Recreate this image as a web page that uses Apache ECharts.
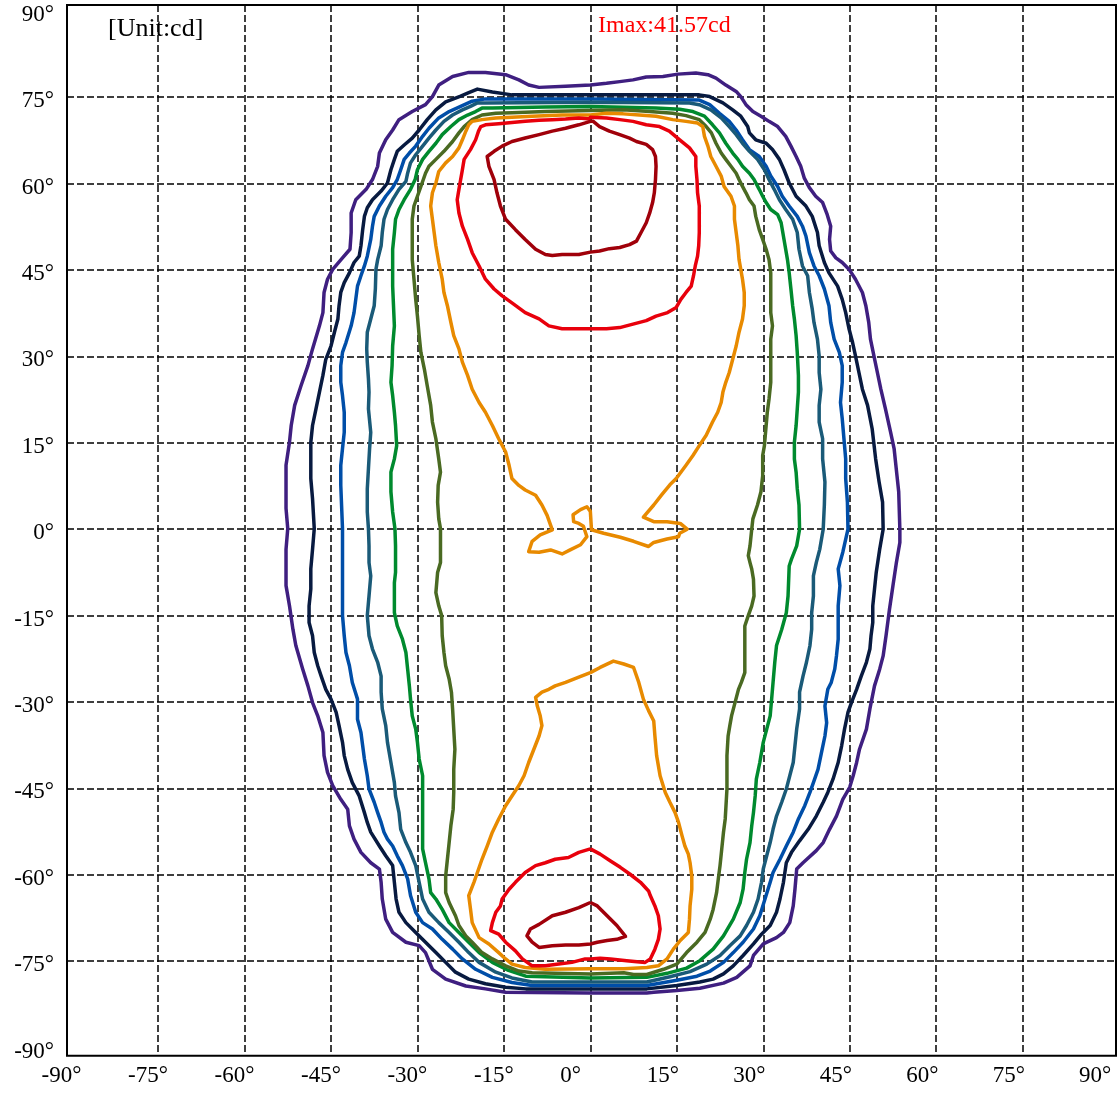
<!DOCTYPE html>
<html>
<head>
<meta charset="utf-8">
<script src="https://cdn.jsdelivr.net/npm/echarts@6/dist/echarts.min.js"></script>
<style>
html,body{margin:0;padding:0;background:#fff;}
#chart{width:1120px;height:1093px;}
</style>
</head>
<body>
<div id="chart"></div>
<script>
// Tick values (degrees)
const tickLabels = [-90,-75,-60,-45,-30,-15,0,15,30,45,60,75,90];
const gridTicks = [-75,-60,-45,-30,-15,0,15,30,45,60,75];

// Contour lines [horizontal angle, vertical angle], outermost to innermost
const purple = [[0,77.1],[-4.3,76.9],[-8.9,76.7],[-10.7,77.1],[-12.4,78.0],[-14.7,78.9],[-18.2,79.3],[-21.1,79.3],[-23.9,78.6],[-26.3,77.1],[-27.4,75.1],[-28.6,73.7],[-30.9,72.5],[-33.2,71.1],[-34.3,69.3],[-35.5,67.6],[-36.6,65.3],[-36.9,63.0],[-37.8,60.7],[-38.9,59.0],[-40.7,57.2],[-41.5,54.9],[-41.5,51.5],[-41.7,48.6],[-43.0,47.1],[-44.7,45.1],[-45.6,43.4],[-46.2,41.1],[-46.4,37.6],[-47.0,35.3],[-48.2,31.3],[-49.0,28.4],[-50.2,24.9],[-51.3,21.5],[-51.9,18.0],[-52.2,15.1],[-52.8,11.1],[-52.8,7.6],[-52.8,3.6],[-52.5,0.1],[-52.8,-3.5],[-52.8,-9.8],[-52.2,-13.3],[-51.6,-17.4],[-51.1,-20.2],[-49.9,-24.3],[-49.0,-27.2],[-48.2,-30.1],[-47.3,-32.4],[-46.4,-35.3],[-46.2,-39.3],[-45.6,-42.2],[-44.7,-44.5],[-43.3,-46.9],[-42.1,-48.6],[-41.8,-51.5],[-41.0,-53.8],[-39.8,-56.1],[-38.1,-57.9],[-36.6,-59.0],[-36.3,-61.3],[-36.1,-64.2],[-35.5,-67.7],[-34.3,-70.0],[-32.0,-71.7],[-29.7,-72.3],[-28.6,-73.5],[-27.4,-76.4],[-25.1,-78.1],[-21.6,-79.3],[-18.2,-79.8],[-14.7,-80.4],[0,-80.5],[9.8,-80.5],[11.0,-80.4],[15.0,-80.1],[19.0,-79.7],[23.1,-78.8],[25.4,-77.8],[27.7,-75.8],[28.3,-74.0],[30.0,-72.0],[32.3,-70.9],[33.5,-70.0],[34.6,-68.3],[35.2,-65.4],[35.5,-62.5],[35.8,-59.0],[36.9,-57.9],[39.2,-55.8],[40.4,-54.4],[41.5,-52.1],[42.7,-49.8],[43.8,-46.9],[45.0,-44.8],[45.6,-42.8],[46.2,-40.5],[46.7,-38.2],[47.9,-34.7],[48.5,-31.2],[49.3,-27.2],[50.2,-24.3],[50.8,-22.0],[51.3,-18.5],[51.9,-13.9],[52.5,-9.8],[53.1,-5.8],[53.7,-2.3],[53.7,0],[53.5,6.5],[53.2,9.3],[52.7,14.0],[52.1,16.8],[51.2,20.9],[50.4,24.3],[49.8,27.2],[49.2,30.1],[48.6,33.0],[48.3,35.9],[47.8,38.8],[47.2,41.1],[46.0,43.4],[44.9,45.1],[43.7,46.3],[42.6,47.1],[41.7,48.3],[41.5,50.3],[41.7,52.6],[41.1,54.6],[40.3,56.7],[39.1,57.8],[38.0,59.3],[37.1,61.0],[36.5,63.0],[35.7,64.7],[34.8,66.5],[33.9,68.2],[32.5,69.9],[31.0,70.8],[29.6,71.7],[28.2,72.5],[27.0,73.7],[26.1,75.1],[25.3,76.0],[23.5,77.1],[21.8,78.3],[20.4,78.9],[18.3,79.2],[15.2,79.0],[12.6,78.6],[9.7,78.5],[7.4,78.0],[5.1,77.7],[2.8,77.4],[0,77.1]];

const navy = [[0,75.4],[-13.6,75.4],[-17.0,75.9],[-19.6,76.4],[-21.3,75.7],[-22.5,75.2],[-25.1,74.2],[-26.8,72.8],[-28.3,71.1],[-29.7,69.3],[-30.9,67.9],[-32.3,66.7],[-33.5,65.6],[-34.0,64.2],[-34.6,62.4],[-35.2,60.1],[-36.3,58.7],[-37.8,57.2],[-38.7,55.8],[-39.2,54.3],[-39.5,52.0],[-39.8,49.2],[-40.1,47.4],[-41.0,46.3],[-41.8,44.5],[-42.7,42.8],[-43.3,41.1],[-43.6,38.8],[-43.8,36.5],[-44.4,34.2],[-45.0,31.8],[-45.9,29.5],[-46.4,26.7],[-47.0,23.8],[-47.6,20.9],[-48.2,18.0],[-48.5,15.1],[-48.5,8.8],[-48.2,5.3],[-47.9,0.1],[-48.2,-3.5],[-48.5,-6.9],[-48.5,-10.4],[-48.8,-13.3],[-48.8,-16.2],[-48.2,-18.5],[-47.9,-21.4],[-47.3,-23.7],[-46.7,-25.5],[-45.9,-27.8],[-45.0,-29.5],[-44.1,-31.8],[-43.6,-34.1],[-43.0,-37.0],[-42.7,-39.3],[-42.1,-41.7],[-41.3,-44.0],[-40.1,-46.3],[-39.2,-49.2],[-38.7,-50.9],[-38.1,-52.6],[-36.6,-55.0],[-35.5,-56.7],[-34.3,-58.4],[-34.0,-61.3],[-33.7,-64.2],[-33.2,-66.5],[-32.0,-68.3],[-30.3,-70.0],[-28.6,-71.7],[-26.8,-73.5],[-25.1,-75.2],[-23.4,-76.9],[-21.1,-78.1],[-18.2,-78.9],[-14.7,-79.5],[-11.2,-79.8],[0,-79.8],[9.8,-79.8],[15.0,-79.2],[19.0,-78.6],[21.3,-78.1],[23.1,-77.2],[24.8,-75.8],[26.5,-74.0],[28.3,-72.0],[29.7,-70.3],[31.2,-68.8],[32.3,-66.5],[32.9,-64.2],[33.5,-61.3],[34.0,-57.9],[34.9,-56.1],[36.3,-54.1],[37.8,-52.1],[39.2,-49.8],[40.4,-47.4],[41.2,-45.7],[42.1,-43.4],[43.0,-40.5],[43.6,-37.6],[44.1,-34.7],[44.7,-31.8],[45.3,-30.1],[46.2,-27.8],[47.0,-25.5],[47.9,-23.1],[48.5,-20.8],[48.7,-18.5],[49.0,-16.2],[49.0,-13.3],[49.3,-10.4],[49.6,-7.5],[50.2,-3.5],[50.8,0],[50.7,4.7],[50.1,8.2],[49.5,12.2],[48.9,17.4],[48.1,21.5],[47.2,24.3],[46.6,27.2],[46.0,30.1],[45.5,32.4],[44.9,34.7],[44.3,37.6],[43.7,39.9],[42.9,42.2],[41.4,44.5],[40.6,46.3],[39.7,49.2],[39.4,51.5],[38.5,54.3],[37.4,56.1],[35.7,57.8],[34.5,60.1],[33.6,62.4],[32.8,64.2],[31.6,65.9],[30.5,67.0],[28.7,67.6],[27.6,68.8],[27.3,69.9],[26.1,71.7],[24.7,72.8],[23.0,74.0],[20.7,75.1],[18.9,75.4],[0,75.4]];

const blue = [[0,74.7],[-18.2,74.7],[-20.5,74.3],[-22.5,73.4],[-24.5,72.5],[-26.3,71.4],[-28.0,69.6],[-29.1,68.2],[-30.3,66.5],[-31.4,65.3],[-32.3,64.2],[-32.9,62.4],[-33.5,60.7],[-34.3,59.3],[-35.5,57.8],[-36.6,56.1],[-37.5,54.3],[-37.8,52.6],[-38.1,50.3],[-38.7,47.4],[-39.2,45.7],[-39.8,44.0],[-40.4,42.2],[-40.7,39.9],[-41.0,37.6],[-41.5,35.3],[-42.4,32.4],[-43.0,30.7],[-43.3,28.4],[-43.3,25.5],[-43.0,23.2],[-42.7,20.3],[-42.7,16.8],[-43.0,14.0],[-43.3,11.1],[-43.3,7.6],[-43.0,0.1],[-43.0,-5.8],[-43.0,-15.0],[-42.7,-18.5],[-42.4,-21.4],[-41.8,-23.7],[-41.3,-26.6],[-40.4,-29.5],[-40.4,-33.0],[-39.8,-35.3],[-39.5,-37.6],[-39.2,-39.9],[-38.7,-42.8],[-38.4,-45.1],[-37.5,-47.4],[-36.9,-49.2],[-36.3,-50.9],[-35.8,-52.6],[-35.2,-53.8],[-34.3,-55.0],[-33.5,-56.7],[-32.6,-58.4],[-31.7,-60.7],[-31.2,-63.6],[-30.3,-66.5],[-29.1,-68.3],[-27.4,-69.4],[-25.7,-71.2],[-23.9,-72.9],[-22.2,-74.6],[-19.9,-76.4],[-17.0,-77.8],[-13.6,-78.7],[-10.1,-79.2],[0,-79.2],[9.8,-79.2],[15.0,-78.3],[18.5,-77.6],[20.8,-76.7],[23.1,-75.2],[24.8,-73.5],[26.5,-71.7],[28.3,-69.4],[29.4,-67.1],[30.3,-64.2],[31.2,-61.3],[31.7,-59.6],[32.9,-57.3],[34.0,-55.0],[35.2,-52.6],[36.1,-50.3],[37.2,-48.0],[38.1,-45.7],[38.7,-44.0],[39.5,-41.7],[40.1,-38.8],[40.7,-35.9],[41.0,-33.6],[40.7,-30.7],[41.2,-27.8],[41.8,-26.6],[42.4,-24.3],[42.7,-22.0],[43.0,-19.1],[43.0,-13.3],[43.3,-9.8],[43.0,-6.9],[43.8,-4.0],[44.7,0],[44.6,4.7],[44.3,8.8],[44.3,12.2],[44.0,15.7],[43.7,19.2],[43.4,22.0],[43.7,25.5],[43.7,28.4],[43.2,30.7],[42.3,33.0],[41.7,35.9],[41.4,38.8],[40.6,41.7],[39.7,44.0],[38.8,45.7],[38.0,48.0],[37.4,50.9],[36.8,52.6],[35.9,54.3],[34.5,56.1],[33.3,57.8],[32.5,59.5],[31.3,61.3],[30.5,63.0],[29.3,64.7],[27.6,65.9],[26.4,67.6],[25.3,69.3],[24.1,70.8],[22.4,72.2],[20.7,73.7],[18.9,74.5],[0,74.7]];

const teal = [[0,74.1],[-18.2,74.0],[-19.6,74.0],[-20.8,73.4],[-22.2,72.8],[-23.9,71.9],[-25.4,70.8],[-26.8,69.3],[-28.0,67.9],[-29.1,66.5],[-30.3,65.0],[-31.2,63.6],[-31.7,61.8],[-32.0,60.4],[-33.2,59.0],[-34.3,57.2],[-35.2,55.5],[-35.8,53.8],[-36.1,51.5],[-36.3,49.2],[-36.9,46.8],[-37.2,45.1],[-37.3,41.7],[-37.5,38.8],[-38.1,36.5],[-38.7,34.2],[-38.8,31.3],[-38.7,29.0],[-38.5,26.1],[-38.4,23.8],[-38.5,20.9],[-38.1,16.8],[-38.3,14.0],[-38.5,10.5],[-38.7,7.0],[-38.7,3.0],[-38.5,0.1],[-38.4,-2.9],[-38.4,-5.8],[-38.1,-8.1],[-38.4,-11.6],[-38.7,-15.0],[-38.4,-18.5],[-37.8,-20.8],[-36.9,-23.1],[-36.3,-25.5],[-36.3,-28.3],[-36.1,-31.2],[-35.5,-34.1],[-35.2,-37.0],[-34.6,-40.5],[-34.0,-44.0],[-33.8,-46.3],[-33.2,-49.2],[-32.9,-52.1],[-32.0,-54.4],[-31.2,-56.1],[-30.3,-58.4],[-29.7,-61.3],[-29.1,-64.2],[-28.0,-66.5],[-26.3,-68.3],[-24.5,-70.0],[-22.8,-71.7],[-21.1,-73.5],[-19.3,-75.2],[-16.4,-76.9],[-13.6,-77.9],[-10.1,-78.6],[0,-78.6],[9.8,-78.6],[13.8,-77.7],[17.3,-76.8],[20.2,-75.5],[22.5,-74.0],[24.2,-72.3],[26.0,-70.6],[27.1,-68.8],[28.3,-66.5],[29.1,-64.2],[29.7,-61.3],[30.0,-59.0],[30.6,-56.7],[31.2,-54.4],[31.7,-52.1],[32.3,-49.8],[33.2,-47.4],[34.0,-45.1],[34.6,-42.8],[35.2,-40.5],[35.5,-37.6],[35.8,-34.7],[36.3,-31.2],[36.3,-28.3],[36.9,-25.5],[37.5,-23.1],[38.1,-20.2],[38.4,-17.4],[38.4,-14.5],[38.7,-11.6],[38.7,-8.1],[39.2,-5.8],[39.8,-3.5],[40.4,0],[40.6,4.2],[40.7,8.2],[40.3,12.2],[40.3,15.7],[39.7,18.6],[39.7,21.5],[40.0,24.3],[39.7,27.2],[39.7,30.1],[39.4,33.0],[38.8,35.9],[38.5,38.2],[38.0,41.1],[37.7,44.0],[36.8,45.7],[36.2,48.6],[35.9,51.5],[35.1,53.8],[33.9,55.5],[32.8,57.2],[31.9,59.0],[31.0,60.7],[30.2,62.4],[29.0,64.2],[27.6,65.6],[26.4,67.0],[25.3,68.5],[24.1,69.9],[22.7,71.4],[20.9,72.8],[18.9,73.7],[17.2,74.0],[0,74.1]];

const green = [[0,73.4],[-7.8,73.3],[-17.0,73.1],[-18.8,73.1],[-19.9,72.5],[-21.3,71.9],[-22.8,71.1],[-24.2,69.9],[-25.7,68.5],[-26.8,67.0],[-28.0,65.6],[-29.1,64.2],[-30.0,62.4],[-30.4,60.7],[-31.2,59.0],[-32.3,57.2],[-33.2,55.5],[-33.8,53.8],[-34.0,51.5],[-34.3,48.6],[-34.3,42.2],[-34.0,35.3],[-34.3,31.8],[-34.4,28.4],[-34.6,25.5],[-34.3,23.2],[-34.0,20.3],[-33.8,18.0],[-33.6,14.5],[-34.0,12.2],[-34.6,9.9],[-34.6,6.5],[-34.3,3.0],[-33.9,0.1],[-33.8,-2.9],[-33.8,-7.5],[-34.0,-9.3],[-34.0,-14.5],[-33.5,-16.8],[-32.6,-19.1],[-32.0,-21.4],[-31.7,-24.3],[-31.4,-27.2],[-31.2,-29.5],[-30.9,-32.4],[-30.3,-34.7],[-30.0,-37.0],[-29.7,-39.9],[-29.1,-42.8],[-29.1,-55.5],[-28.6,-57.9],[-28.0,-60.7],[-27.7,-63.1],[-26.8,-64.2],[-25.7,-66.0],[-24.5,-68.3],[-22.8,-70.0],[-21.1,-71.7],[-19.3,-73.5],[-17.0,-75.2],[-14.2,-76.6],[-11.2,-77.6],[0,-77.9],[9.8,-77.8],[13.3,-77.1],[16.7,-76.2],[19.0,-74.9],[21.3,-72.9],[23.1,-70.6],[24.8,-67.7],[26.0,-64.8],[26.5,-62.5],[26.8,-59.6],[27.1,-57.3],[27.7,-54.4],[28.0,-51.5],[28.3,-49.2],[28.6,-46.3],[28.8,-43.4],[29.4,-40.5],[30.0,-37.0],[30.6,-34.7],[31.2,-32.4],[31.4,-30.1],[31.7,-26.6],[32.0,-23.1],[32.3,-20.2],[33.2,-17.4],[34.0,-14.5],[34.3,-11.6],[34.5,-6.4],[34.9,-5.2],[35.8,-2.9],[36.3,0],[36.2,4.2],[35.9,7.0],[35.7,9.9],[35.4,12.2],[35.4,15.1],[35.7,18.0],[35.9,20.9],[36.1,23.8],[36.1,26.7],[35.9,30.7],[35.7,33.6],[35.4,36.5],[35.1,38.8],[34.8,41.7],[34.5,44.5],[34.2,46.8],[33.6,50.3],[33.1,53.2],[32.5,54.6],[31.3,55.5],[30.5,56.7],[29.9,57.8],[29.3,59.0],[28.4,60.7],[27.6,61.8],[26.4,63.0],[25.6,64.2],[24.7,65.3],[23.5,67.0],[22.4,68.8],[21.2,70.2],[19.8,71.7],[17.8,72.5],[15.5,72.9],[11.4,73.1],[0,73.4]];

const olive = [[0,72.7],[-7.8,72.5],[-13.6,72.3],[-16.4,72.2],[-18.8,71.9],[-20.5,71.1],[-21.9,69.9],[-22.8,68.8],[-23.9,67.3],[-25.4,65.6],[-26.8,64.2],[-28.0,63.0],[-28.6,61.8],[-29.4,59.5],[-30.0,57.8],[-30.6,56.1],[-30.9,53.8],[-30.9,50.3],[-30.9,46.8],[-30.6,43.4],[-30.3,39.9],[-30.0,37.0],[-29.7,33.6],[-29.4,30.7],[-28.8,27.8],[-28.3,24.9],[-27.7,21.5],[-27.4,18.6],[-26.8,15.7],[-26.3,12.2],[-26.0,9.9],[-26.4,7.6],[-26.5,4.7],[-26.3,1.8],[-26.0,0.1],[-26.0,-3.5],[-26.0,-5.8],[-26.5,-7.5],[-26.8,-11.0],[-26.3,-13.3],[-25.8,-15.0],[-25.7,-18.5],[-25.4,-21.4],[-25.1,-23.7],[-24.5,-26.0],[-24.1,-28.3],[-23.9,-31.2],[-23.7,-34.7],[-23.5,-38.2],[-23.7,-41.7],[-23.7,-45.7],[-23.8,-48.6],[-24.2,-51.5],[-24.5,-54.4],[-24.8,-57.3],[-25.1,-60.2],[-25.1,-63.1],[-24.5,-64.8],[-23.4,-67.1],[-22.8,-68.8],[-21.6,-70.6],[-20.5,-71.7],[-18.8,-73.5],[-17.0,-74.6],[-14.7,-75.8],[-12.4,-76.7],[-10.1,-77.0],[0,-77.2],[5.8,-77.0],[7.5,-77.3],[9.8,-77.3],[12.7,-76.4],[15.0,-75.5],[16.7,-73.5],[18.5,-71.7],[19.9,-70.0],[20.8,-67.7],[21.3,-66.0],[21.9,-63.1],[22.2,-60.7],[22.5,-58.4],[22.8,-55.5],[23.1,-52.6],[23.4,-50.3],[23.5,-48.6],[23.7,-45.1],[23.7,-39.3],[23.9,-35.9],[24.2,-34.1],[24.5,-32.4],[25.1,-30.1],[25.7,-27.8],[26.2,-26.6],[26.8,-24.9],[26.8,-19.1],[26.8,-16.8],[27.4,-15.0],[28.0,-13.3],[28.4,-11.6],[28.3,-8.7],[28.0,-6.9],[27.7,-5.8],[27.4,-4.6],[27.7,-2.9],[28.0,0],[28.2,1.8],[29.0,4.2],[29.6,6.5],[29.9,9.3],[29.9,12.8],[30.2,14.5],[30.5,18.0],[30.7,20.3],[31.0,22.6],[31.3,25.5],[31.3,29.5],[31.3,33.0],[31.6,35.3],[31.3,37.6],[31.3,44.5],[31.0,46.8],[30.5,48.6],[29.9,50.3],[29.3,52.0],[28.7,54.3],[28.4,56.1],[27.6,57.2],[27.0,58.4],[26.4,59.5],[25.8,60.7],[25.3,61.8],[24.4,63.0],[23.5,64.2],[22.7,65.3],[21.8,67.0],[21.0,68.8],[20.1,69.9],[18.9,71.1],[16.6,71.8],[14.3,72.2],[10.3,72.5],[5.7,72.8],[0,72.7]];

const orangeUpper = [[0,71.9],[-4.9,71.9],[-10.1,71.7],[-13.6,71.5],[-16.4,71.4],[-18.8,71.1],[-20.5,70.8],[-21.1,70.2],[-21.6,69.1],[-22.2,67.6],[-22.8,66.2],[-23.9,64.7],[-25.1,63.6],[-26.3,62.1],[-26.8,60.1],[-27.4,58.4],[-27.7,56.1],[-27.4,53.8],[-27.1,51.5],[-26.8,49.2],[-26.3,46.3],[-25.7,43.4],[-25.4,41.1],[-24.8,38.8],[-24.2,35.9],[-23.7,33.6],[-22.8,31.3],[-22.2,29.0],[-21.3,26.7],[-20.5,24.3],[-19.3,22.0],[-18.2,20.3],[-17.0,18.0],[-15.9,15.7],[-14.7,13.4],[-14.1,11.1],[-13.6,8.8],[-12.4,7.6],[-11.3,6.8],[-9.5,5.9],[-8.4,4.2],[-7.5,2.4],[-6.9,0.7],[-6.6,-0.1],[-8.7,-1.0],[-10.1,-2.1],[-10.7,-3.9],[-8.9,-4.0],[-6.9,-3.6],[-4.9,-4.3],[-3.5,-3.6],[-1.7,-2.7],[-0.6,-1.3],[-1.2,0.5],[-2.0,1.0],[-2.9,1.3],[-3.0,2.5],[-1.7,3.4],[-0.6,3.9],[0,3.1],[0.2,-0.1],[2.3,-0.7],[5.2,-1.4],[7.5,-2.1],[10.1,-3.0],[11.0,-2.3],[13.3,-1.7],[15.3,-1.3],[15.5,-0.7],[16.8,0],[15.6,1.0],[13.3,1.3],[11.0,1.3],[9.2,2.1],[11.0,4.2],[12.4,6.0],[13.8,7.7],[14.9,8.8],[16.6,11.1],[17.8,12.8],[18.9,14.5],[20.1,16.3],[21.2,18.6],[22.1,20.3],[22.7,22.0],[23.0,23.8],[23.5,25.5],[24.1,27.2],[24.7,29.5],[25.3,31.8],[25.8,34.2],[26.4,36.5],[26.7,38.8],[26.7,41.1],[26.4,43.4],[26.1,45.1],[25.8,46.8],[25.6,49.2],[25.3,51.5],[25.0,53.8],[25.0,56.1],[24.4,57.8],[23.2,59.5],[22.7,61.3],[21.8,63.0],[20.9,64.7],[20.4,66.5],[19.8,68.2],[19.5,69.9],[18.6,70.5],[16.6,70.8],[14.3,71.1],[11.4,71.7],[8.5,71.9],[5.7,72.1],[2.8,72.2],[0,71.9]];

const orangeLower = [[0,-24.9],[-2.0,-25.7],[-4.3,-26.6],[-6.1,-27.2],[-7.2,-27.8],[-8.4,-28.3],[-9.5,-29.2],[-9.2,-30.7],[-8.7,-32.4],[-8.4,-34.1],[-8.9,-35.9],[-9.8,-38.2],[-10.7,-40.5],[-11.5,-42.8],[-12.4,-44.5],[-13.6,-46.3],[-14.7,-48.0],[-15.9,-50.3],[-17.0,-52.6],[-17.9,-55.0],[-18.8,-57.3],[-19.6,-59.6],[-20.2,-61.3],[-21.1,-63.6],[-20.8,-65.9],[-20.5,-68.3],[-19.3,-70.9],[-17.6,-72.0],[-15.9,-73.5],[-14.7,-74.6],[-13.6,-75.5],[-11.3,-76.1],[-7.8,-76.4],[0,-76.3],[5.8,-76.3],[9.8,-76.1],[11.8,-75.8],[13.3,-74.6],[14.4,-72.9],[15.6,-71.4],[17.0,-70.0],[17.2,-67.7],[17.3,-65.4],[17.6,-62.5],[17.6,-60.2],[17.3,-57.9],[17.0,-56.4],[16.4,-55.0],[15.9,-53.2],[15.3,-50.9],[14.7,-49.2],[13.8,-47.4],[13.0,-45.7],[12.1,-42.8],[11.5,-39.3],[11.2,-35.9],[11.0,-33.3],[10.1,-31.5],[9.2,-29.5],[8.4,-26.6],[7.5,-24.0],[5.8,-23.4],[4.0,-22.9],[1.7,-24.0],[0,-24.9]];

const redUpper = [[0,71.2],[-2.0,71.4],[-4.3,71.2],[-6.6,71.1],[-8.9,71.0],[-11.3,70.8],[-13.6,70.6],[-15.9,70.4],[-18.2,70.2],[-19.0,69.9],[-19.4,69.1],[-19.9,67.6],[-20.8,65.9],[-21.9,64.2],[-22.2,62.4],[-22.5,60.7],[-22.8,59.0],[-23.1,57.2],[-22.8,54.9],[-22.2,52.6],[-21.3,50.3],[-20.5,48.0],[-19.3,45.7],[-18.2,43.4],[-16.7,41.7],[-15.3,40.5],[-13.6,39.3],[-11.3,37.6],[-8.9,36.5],[-7.2,35.3],[-4.9,34.8],[0,34.8],[2.8,34.8],[5.1,35.0],[7.4,35.6],[9.7,36.2],[11.4,37.0],[13.4,37.6],[14.9,38.5],[15.7,39.9],[16.6,41.1],[17.5,42.2],[17.9,44.0],[18.2,45.7],[18.6,47.4],[18.8,49.2],[18.9,51.5],[18.9,56.1],[18.6,58.4],[18.5,60.7],[18.3,63.0],[18.3,64.7],[17.2,66.2],[15.5,67.6],[13.7,69.1],[12.0,69.9],[9.7,70.2],[7.4,70.8],[5.1,71.1],[2.8,71.4],[0,71.5],[0,71.2]];

const redLower = [[0,-55.5],[-2.0,-56.1],[-3.8,-57.0],[-6.1,-57.3],[-7.8,-57.9],[-9.5,-58.4],[-11.3,-59.6],[-13.0,-61.3],[-14.1,-62.5],[-15.3,-64.2],[-15.6,-65.4],[-16.4,-66.5],[-17.0,-68.3],[-17.3,-69.7],[-15.9,-70.3],[-14.7,-71.7],[-13.0,-73.2],[-11.8,-74.6],[-10.1,-75.8],[-7.8,-75.8],[-5.5,-75.5],[-3.2,-75.2],[-0.9,-74.6],[0,-74.6],[1.7,-74.5],[3.5,-74.6],[6.3,-74.9],[8.1,-75.1],[9.5,-75.2],[10.4,-74.6],[11.2,-72.9],[11.8,-71.2],[12.1,-69.4],[11.8,-67.1],[11.2,-65.4],[10.4,-63.6],[10.1,-62.8],[8.7,-61.3],[6.9,-59.9],[5.2,-58.7],[3.5,-57.6],[1.7,-56.4],[0,-55.5]];

const darkRedUpper = [[0,70.8],[-2.0,70.2],[-4.3,69.6],[-6.6,69.1],[-8.9,68.5],[-11.3,67.9],[-13.6,67.3],[-15.3,66.5],[-16.7,65.6],[-17.9,64.7],[-17.6,63.0],[-16.7,60.7],[-16.2,58.4],[-15.6,56.1],[-14.7,53.8],[-13.0,52.0],[-11.3,50.3],[-9.5,48.6],[-7.8,47.7],[-6.6,47.5],[-4.9,47.7],[-2.0,47.7],[0,48.1],[1.6,48.3],[3.3,48.7],[5.1,48.9],[6.8,49.4],[8.0,50.0],[8.8,51.5],[9.7,53.2],[10.3,54.9],[10.8,56.7],[11.1,58.4],[11.3,60.7],[11.4,63.0],[11.3,64.7],[10.8,65.9],[9.7,66.8],[8.0,67.3],[6.8,67.9],[5.1,68.5],[3.3,69.1],[1.6,69.9],[0.5,70.8],[0,70.8]];

const darkRedLower = [[0,-64.8],[-2.0,-65.7],[-4.3,-66.5],[-6.6,-67.1],[-8.9,-68.6],[-10.4,-69.4],[-11.0,-70.6],[-10.1,-71.7],[-8.9,-72.6],[-6.6,-72.3],[-4.3,-72.2],[-2.0,-72.2],[0,-72.0],[1.2,-71.7],[2.9,-71.4],[4.6,-71.2],[6.1,-70.7],[4.6,-68.8],[2.9,-67.1],[1.2,-65.4],[0,-64.8]];

const unitText = '[Unit:cd]';
const imaxText = 'Imax:41.57cd';

const FONT = "'Liberation Serif','Times New Roman',serif";
const contours = [
  {name:'purple', data:purple, color:'#3f1f80'},
  {name:'navy', data:navy, color:'#081a40'},
  {name:'blue', data:blue, color:'#004ea8'},
  {name:'teal', data:teal, color:'#1a5a78'},
  {name:'green', data:green, color:'#008a2e'},
  {name:'olive', data:olive, color:'#4a6a22'},
  {name:'orangeUpper', data:orangeUpper, color:'#e88a00'},
  {name:'orangeLower', data:orangeLower, color:'#e88a00'},
  {name:'redUpper', data:redUpper, color:'#e8000c'},
  {name:'redLower', data:redLower, color:'#e8000c'},
  {name:'darkRedUpper', data:darkRedUpper, color:'#a0000a'},
  {name:'darkRedLower', data:darkRedLower, color:'#a0000a'}
];

const chart = echarts.init(document.getElementById('chart'), null, {renderer:'canvas'});
const axisLabelCommon = {
  customValues: tickLabels,
  formatter: v => v + '°',
  fontSize: 23,
  fontFamily: FONT,
  color: '#000'
};
chart.setOption({
  animation: false,
  backgroundColor: '#fff',
  title: [
    {text: unitText, left: 108, top: 16, padding: 0,
     textStyle: {fontSize: 26, fontWeight: 'normal', fontFamily: FONT, color: '#000'}},
    {text: imaxText, left: 598, top: 14, padding: 0,
     textStyle: {fontSize: 24, fontWeight: 'normal', fontFamily: FONT, color: '#ff0000'}}
  ],
  grid: {left: 67, right: 4, top: 5, bottom: 37.3, show: true, borderColor: '#000', borderWidth: 2, backgroundColor: 'transparent'},
  xAxis: {
    type: 'value', min: -90.8, max: 91.2,
    axisLine: {show: false},
    axisTick: {show: false, customValues: gridTicks},
    splitLine: {show: true, lineStyle: {color: '#000', width: 1.5, type: [7, 3]}},
    axisLabel: Object.assign({}, axisLabelCommon, {align: 'left', padding: [0,0,0,-30], margin: 9})
  },
  yAxis: {
    type: 'value', min: -91.4, max: 91.0,
    axisLine: {show: false},
    axisTick: {show: false, customValues: gridTicks},
    splitLine: {show: true, lineStyle: {color: '#000', width: 1.5, type: [7, 3]}},
    axisLabel: Object.assign({}, axisLabelCommon, {margin: 13, verticalAlign: 'top', lineHeight: 8})
  },
  series: contours.map(c => ({
    type: 'line',
    name: c.name,
    data: c.data,
    showSymbol: false,
    symbol: 'none',
    smooth: false,
    clip: true,
    lineStyle: {color: c.color, width: 3.5, join: 'round'},
    emphasis: {disabled: true}
  }))
});
</script>
</body>
</html>
